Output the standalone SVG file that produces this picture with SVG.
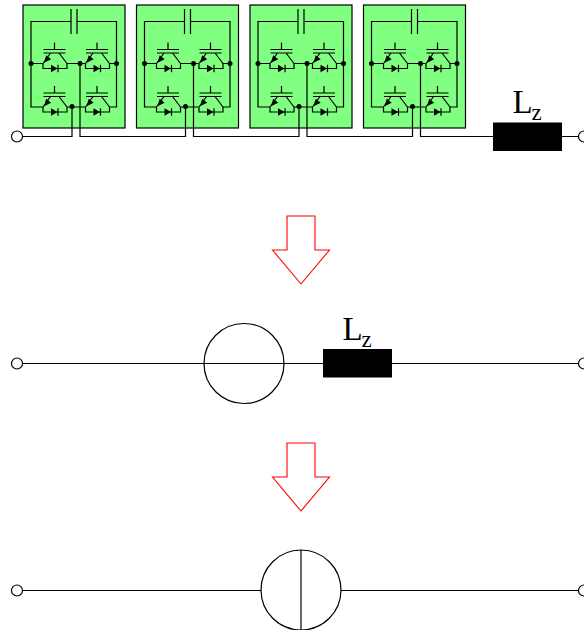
<svg xmlns="http://www.w3.org/2000/svg" xmlns:xlink="http://www.w3.org/1999/xlink" width="584" height="630" viewBox="0 0 584 630">
<style>
.w{fill:none;stroke:#000;stroke-width:1.2}
.t{fill:#fff;stroke:#000;stroke-width:1.2}
.a{fill:#fff;stroke:#f00;stroke-width:1.1}
.f{fill:#000;stroke:none}
.l{font-family:"Liberation Serif",serif;font-size:33px;fill:#000}
.s{font-family:"Liberation Serif",serif;font-size:23px;fill:#000}
</style>
<defs>
<g id="igbt">
<path class="w" d="M43.500 49.500H65.500M43.500 53H65.500M54.500 42.500V49.500M43 63.500L50.500 53M59 53L67 63.500M43 63.500V68.500H67V63.500"/>
<path class="f" d="M44 62.800L46.200 55.300L51.200 59.200Z"/>
<path class="f" d="M51 64.800L57.500 68.500L51 72.200Z"/>
<path class="w" d="M58 64.800V72.200"/>
</g>
<g id="cell">
<rect x="23" y="5" width="102" height="123" fill="#80ff80" stroke="#000" stroke-width="1.200"/>
<path class="w" d="M71 9V34M77 9V34M71 21.500H31V107H43M77 21.500H116.500V107H109M31 63.500H43M67 63.500H85M109 63.500H116.500M67 107H85"/>
<use xlink:href="#igbt"/>
<use xlink:href="#igbt" x="42.500"/>
<use xlink:href="#igbt" y="43.500"/>
<use xlink:href="#igbt" x="42.500" y="43.500"/>
<circle class="f" cx="31" cy="63.500" r="2.500"/>
<circle class="f" cx="80" cy="63.500" r="2.500"/>
<circle class="f" cx="116.500" cy="63.500" r="2.500"/>
<circle class="f" cx="72" cy="106.500" r="2.500"/>
</g>
</defs>
<g id="cell1"><use xlink:href="#cell"/></g>
<g id="cell2"><use xlink:href="#cell" x="113.500"/></g>
<g id="cell3"><use xlink:href="#cell" x="227"/></g>
<g id="cell4"><use xlink:href="#cell" x="340.500"/></g>
<g id="connectors">
<path class="w" d="M17 136.500H72V106.500M80 63.500V136.500H185.500V106.500M193.500 63.500V136.500H299V106.500M307 63.500V136.500H412.500V106.500M420.500 63.500V136.500H584"/>
<path class="w" d="M17 363.500H584"/>
<path class="w" d="M17 590.500H584"/>
</g>
<g id="terminals">
<circle class="t" cx="17" cy="136.500" r="5.500"/>
<circle class="t" cx="584" cy="136.500" r="5.500"/>
<circle class="t" cx="17" cy="363.500" r="5.500"/>
<circle class="t" cx="584" cy="363.500" r="5.500"/>
<circle class="t" cx="17" cy="590.500" r="5.500"/>
<circle class="t" cx="584" cy="590.500" r="5.500"/>
</g>
<g id="inductor1">
<rect x="493" y="122.500" width="69" height="28.500" fill="#000"/>
<text class="l" x="512.500" y="112.500">L</text><text class="s" x="531.500" y="120">z</text>
</g>
<g id="arrow1"><path class="a" d="M287 216H315V250H329.500L301 284L272.500 250H287Z"/></g>
<g id="source1"><circle class="t" cx="244" cy="363.500" r="40"/><path class="w" d="M204 363.500H284"/></g>
<g id="inductor2">
<rect x="323" y="349" width="69" height="28.500" fill="#000"/>
<text class="l" x="342.500" y="339.500">L</text><text class="s" x="361.500" y="347">z</text>
</g>
<g id="arrow2"><path class="a" d="M287 443H315V477H329.500L301 511L272.500 477H287Z"/></g>
<g id="source2"><circle class="t" cx="301" cy="590" r="40"/><path class="w" d="M301 550V630"/></g>
</svg>
